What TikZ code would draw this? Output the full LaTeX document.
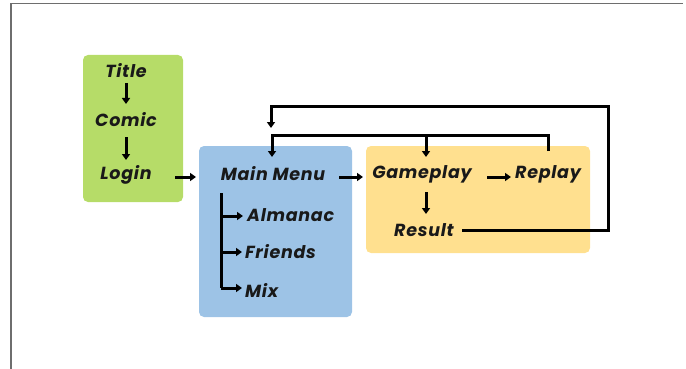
\documentclass[tikz,border=0pt]{standalone}
\usepackage{fontspec}
\newfontfamily\df{Poppins}[LetterSpace=4]
\usetikzlibrary{arrows.meta}
\definecolor{cgreen}{HTML}{B6DC68}
\definecolor{cblue}{HTML}{9DC3E6}
\definecolor{cyellow}{HTML}{FFE08F}
\definecolor{cframe}{HTML}{6E6E6E}
\tikzset{
  box/.style={rounded corners=5pt, draw=none},
  lbl/.style={font=\df\itshape\bfseries\fontsize{17.5}{19}\selectfont, inner sep=0pt, text=black!90},
  arr/.style={line width=3pt, -{Triangle[length=6pt,width=8pt]}},
  ln/.style={line width=3pt}
}
\begin{document}
\begin{tikzpicture}[x=1pt,y=-1pt]
\useasboundingbox (0,0) rectangle (686,369);
% frame
\draw[cframe, line width=1.2pt] (11,369) -- (11,3.5) -- (683,3.5);
% boxes
\fill[box, cgreen] (83,55) rectangle (183,202);
\fill[box, cblue] (199,146) rectangle (352,317);
\fill[box, cyellow] (366,146) rectangle (590,253);
% labels
\node[lbl] (title) at (126,71) {Title};
\node[lbl] (comic) at (126,120) {Comic};
\node[lbl] (login) at (126,175) {Login};
\node[lbl] (main) at (273,174) {Main Menu};
\node[lbl] (game) at (422,174) {Gameplay};
\node[lbl] (replay) at (548,174) {Replay};
\node[lbl] (result) at (424,230) {Result};
\node[lbl, anchor=west] (alm) at (247,215) {Almanac};
\node[lbl, anchor=west] (fri) at (245,252) {Friends};
\node[lbl, anchor=west] (mix) at (245,290) {Mix};
% coordinates
\coordinate (l0) at (175,177);
\coordinate (m0) at (196,177);
\coordinate (m1) at (339,177);
\coordinate (g0) at (363,177);
\coordinate (g1) at (487,177);
\coordinate (rp0) at (511,177);
\coordinate (tt) at (221,193);
\coordinate (b1) at (221,216);
\coordinate (b2) at (221,252);
\coordinate (b3) at (221,288);
\coordinate (r0) at (462,230);
\coordinate (r1) at (608,230);
\coordinate (r2) at (608,107);
\coordinate (r3) at (271,107);
\coordinate (p0) at (548,151);
\coordinate (p1) at (548,135);
\coordinate (p2) at (272,135);
\coordinate (pg) at (426,135);
% arrows
\draw[arr] (title.south |- 0,83) -- (comic.north |- 0,104);
\draw[arr] (comic.south |- 0,137) -- (login.north |- 0,160);
\draw[arr] (l0) -- (m0);
\draw[arr] (m1) -- (g0);
\draw[arr] (g1) -- (rp0);
\draw[arr] (426,192) -- (426,214);
% tree
\draw[ln] (tt) -- (b3);
\draw[arr] (b1) -- (243,216);
\draw[arr] (b2) -- (242,252);
\draw[arr] (b3) -- (242,288);
% result loop
\draw[arr] (r0) -- (r1) -- (r2) -- (r3) -- (271,128);
% replay loop
\draw[arr] (p0) -- (p1) -- (p2) -- (272,157);
\draw[arr] (pg) -- (426,157);
\end{tikzpicture}
\end{document}
